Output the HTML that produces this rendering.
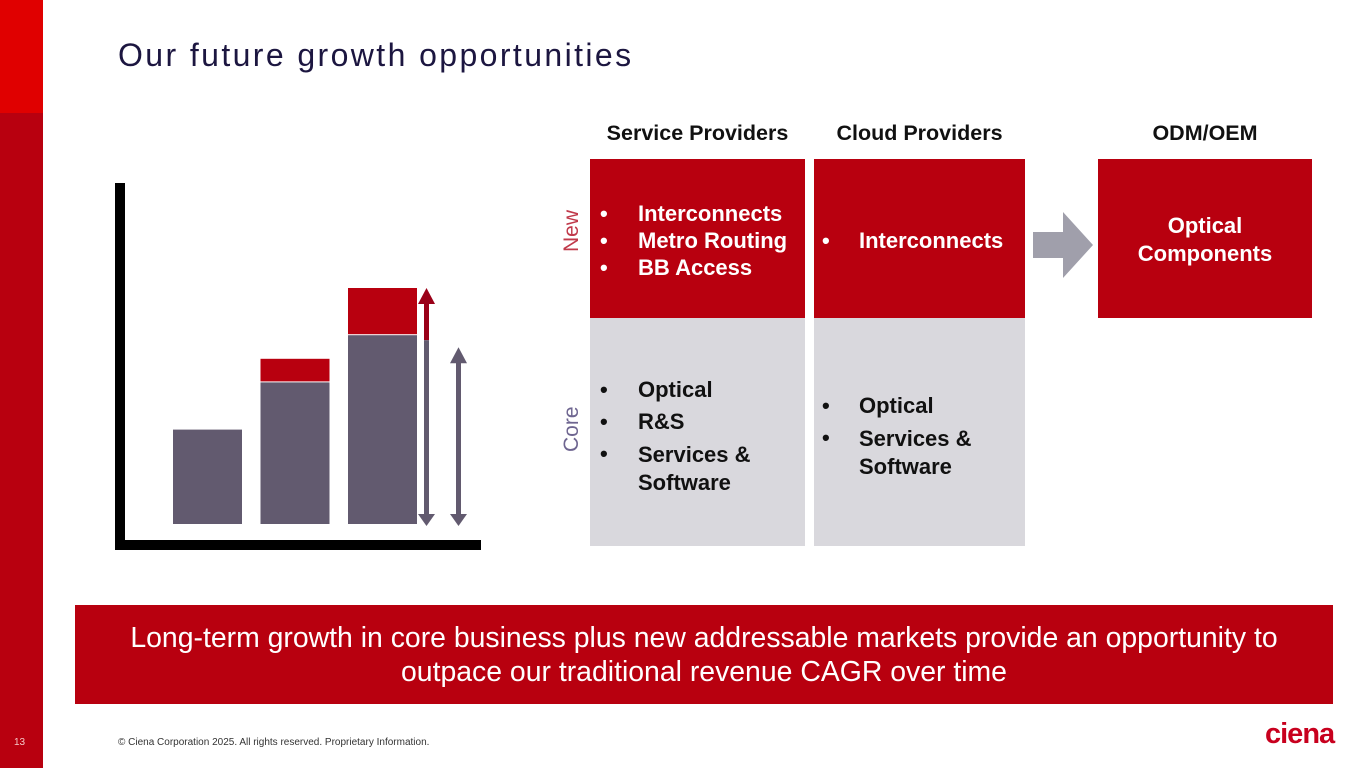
<!DOCTYPE html>
<html><head><meta charset="utf-8"><style>
body{margin:0;width:1365px;height:768px;position:relative;background:#fff;font-family:"Liberation Sans",sans-serif;overflow:hidden}
.abs{position:absolute}
.hdr{position:absolute;top:121px;font-weight:bold;font-size:21.5px;color:#111;text-align:center;white-space:nowrap}
.box{position:absolute;box-sizing:border-box;font-weight:bold;font-size:22px}
.red{background:#b8000f;color:#fff}
.grey{background:#d9d8dd;color:#111}
.li{position:absolute;white-space:nowrap}
</style></head><body>
<div class="abs" style="left:0;top:0;width:43px;height:768px;background:#b8000f"></div>
<div class="abs" style="left:0;top:0;width:43px;height:113px;background:#e00000"></div>
<div class="abs" style="left:118px;top:37px;font-size:32px;color:#1c1640;letter-spacing:2.4px">Our future growth opportunities</div>

<svg class="abs" style="left:0;top:0" width="540" height="600" id="chart"></svg>

<div class="hdr" style="left:590px;width:215px">Service Providers</div>
<div class="hdr" style="left:814px;width:211px">Cloud Providers</div>
<div class="hdr" style="left:1098px;width:214px">ODM/OEM</div>

<div class="abs" style="left:560px;top:228px;width:24px;font-size:21px;color:#c0394a;transform:rotate(-90deg);transform-origin:center;text-align:center;line-height:24px">New</div>
<div class="abs" style="left:552px;top:420px;width:40px;font-size:21px;color:#6e6590;transform:rotate(-90deg);text-align:center;line-height:24px">Core</div>

<div class="box red" style="left:590px;top:159px;width:215px;height:159px">
<div class="li" style="left:10px;top:42px">•</div><div class="li" style="left:48px;top:42px">Interconnects</div>
<div class="li" style="left:10px;top:69px">•</div><div class="li" style="left:48px;top:69px">Metro Routing</div>
<div class="li" style="left:10px;top:96px">•</div><div class="li" style="left:48px;top:96px">BB Access</div>
</div>
<div class="box grey" style="left:590px;top:318px;width:215px;height:228px">
<div class="li" style="left:10px;top:59px">•</div><div class="li" style="left:48px;top:59px">Optical</div>
<div class="li" style="left:10px;top:91px">•</div><div class="li" style="left:48px;top:91px">R&amp;S</div>
<div class="li" style="left:10px;top:123px">•</div><div class="li" style="left:48px;top:123px;line-height:28px">Services &amp;<br>Software</div>
</div>
<div class="box red" style="left:814px;top:159px;width:211px;height:159px">
<div class="li" style="left:8px;top:69px">•</div><div class="li" style="left:45px;top:69px">Interconnects</div>
</div>
<div class="box grey" style="left:814px;top:318px;width:211px;height:228px">
<div class="li" style="left:8px;top:75px">•</div><div class="li" style="left:45px;top:75px">Optical</div>
<div class="li" style="left:8px;top:107px">•</div><div class="li" style="left:45px;top:107px;line-height:28px">Services &amp;<br>Software</div>
</div>
<svg class="abs" style="left:1033px;top:212px" width="60" height="66"><polygon points="0,20 30,20 30,0 60,33 30,66 30,46 0,46" fill="#a09fab"/></svg>
<div class="box red" style="left:1098px;top:159px;width:214px;height:159px;text-align:center;padding-top:53px;line-height:28px">Optical<br>Components</div>

<div class="abs" style="left:75px;top:605px;width:1258px;height:99px;background:#b8000f;color:#fff;font-size:28.4px;text-align:center;line-height:34px;padding-top:16px;box-sizing:border-box;white-space:nowrap">Long-term growth in core business plus new addressable markets provide an opportunity to<br>outpace our traditional revenue CAGR over time</div>

<div class="abs" style="left:14px;top:737px;font-size:10px;color:#f3c8c8">13</div>
<div class="abs" style="left:118px;top:737px;font-size:10px;color:#333">© Ciena Corporation 2025. All rights reserved. Proprietary Information.</div>
<div class="abs" style="left:1265px;top:718px;font-size:29px;font-weight:bold;color:#c8001e;letter-spacing:-1px">ciena</div>

<script>
const categories=["Today","Mid","Future"];
const coreValues=[2,3,4];
const newValues=[0,0.5,1];
const svg=document.getElementById('chart');
const NS='http://www.w3.org/2000/svg';
const base=524, unit=47.2;
const y=v=>base-v*unit;
const x=i=>173+i*87.5;
const bw=69;
function mk(t,a){const e=document.createElementNS(NS,t);for(const k in a)e.setAttribute(k,a[k]);svg.appendChild(e);return e;}
const ya=mk('rect',{x:115,y:183,width:10,height:367,fill:'#000'});


const xa=mk('rect',{x:115,y:540,width:366,height:10,fill:'#000'});


categories.forEach((c,i)=>{
  const r=mk('rect',{x:x(i),y:y(coreValues[i]),width:bw,height:base-y(coreValues[i]),fill:'#625a6f'});
  
  
  if(newValues[i]>0){
    const n=mk('rect',{x:x(i),y:y(coreValues[i]+newValues[i]),width:bw,height:newValues[i]*unit-1,fill:'#b8000f'});
    
    
  }
});
const last=categories.length-1;
const topTotal=y(coreValues[last]+newValues[last]);
const topCore=y(coreValues[last]);
const a1=mk('g',{});


a1.innerHTML=`<rect x="424" y="${topTotal+10}" width="5" height="${topCore+5-topTotal-10}" fill="#9a0018"/><rect x="424" y="${topCore+5}" width="5" height="${base-8-topCore-5}" fill="#625a6f"/><polygon points="418,${topTotal+16} 435,${topTotal+16} 426.5,${topTotal}" fill="#9a0018"/><polygon points="418,${base-10} 435,${base-10} 426.5,${base+2}" fill="#625a6f"/>`;
svg.appendChild(a1);
const a2=mk('g',{});


const ct=topCore+12;
a2.innerHTML=`<rect x="456" y="${ct+10}" width="5" height="${base-8-ct-10}" fill="#625a6f"/><polygon points="450,${ct+16} 467,${ct+16} 458.5,${ct}" fill="#625a6f"/><polygon points="450,${base-10} 467,${base-10} 458.5,${base+2}" fill="#625a6f"/>`;
svg.appendChild(a2);
</script>
</body></html>
